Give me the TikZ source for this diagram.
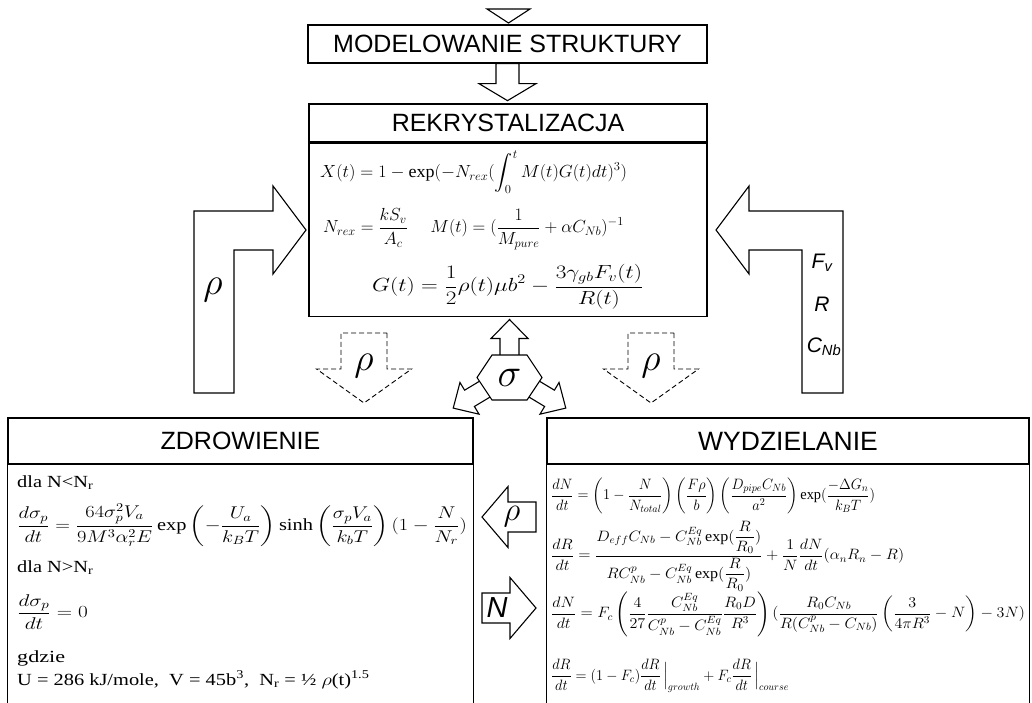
\documentclass[tikz,border=0pt]{standalone}
\usepackage{fix-cm}
\usepackage{amsmath, amssymb}
\usepackage{graphicx}
\usepackage{fontspec}
\setmainfont{Liberation Serif}
\setsansfont{Liberation Sans}
\usetikzlibrary{positioning, calc}

% horizontally widened text, as in the scanned figure
\newcommand{\eqwide}[2]{\scalebox{#1}[1]{#2}}

\tikzset{
  box/.style={draw, line width=1.3pt, inner sep=0pt},
  title/.style={font=\sffamily\fontsize{25}{30}\selectfont},
  blockline/.style={draw, line width=1.1pt, line join=miter, fill=white},
  dashline/.style={draw, line width=0.9pt, dash pattern=on 5pt off 3pt, fill=white},
  eqR/.style={anchor=west, inner sep=0pt, font=\fontsize{17.5}{20}\selectfont},
  eqZ/.style={anchor=west, inner sep=0pt, font=\fontsize{17}{20}\selectfont},
  eqW/.style={anchor=west, inner sep=0pt, font=\fontsize{15}{18}\selectfont},
  greek/.style={inner sep=0pt, font=\fontsize{38}{38}\selectfont},
  sflab/.style={inner sep=0pt, font=\sffamily\itshape\fontsize{21}{24}\selectfont},
  pics/fatarrow/.style args={#1/#2/#3/#4}{code={
    \draw[pic actions] (0,-#1) -- (#2,-#1) -- (#2,-#3) -- ({#2+#4},0)
      -- (#2,#3) -- (#2,#1) -- (0,#1) -- cycle;
  }},
}

\begin{document}
\begin{tikzpicture}[x=1pt, y=-1pt]
  \path[use as bounding box, fill=white] (0,0) rectangle (1032,702);

  % upper boxes
  \draw[blockline] (487,9) -- (530,9) -- (508.5,23) -- cycle;
  \node[box, title, minimum width=399pt, minimum height=38pt] (model) at (507.5,44) {MODELOWANIE STRUKTURY};
  \node[box, title, minimum width=398pt, minimum height=38pt] (rekhead) at (508,123) {REKRYSTALIZACJA};
  \node[box, minimum width=398pt, minimum height=173pt, below=0pt of rekhead] (rekbody) {};
  \pic[blockline, rotate=-90] at (model.south) {fatarrow=11.5/20/28.5/17};

  % recrystallisation equations
  \node[eqR] (rx1) at (320,172) {\eqwide{1.03}{$\displaystyle X(t) = 1 - \exp(-N_{rex}(\int_0^t M(t)G(t)dt)^3)$}};
  \node[eqR] (rx2) at (323,229) {\eqwide{1.01}{$\displaystyle N_{rex} = \frac{kS_v}{A_c} \quad\; M(t) = (\frac{1}{M_{pure}} + \alpha C_{Nb})^{-1}$}};
  \node[eqR, font=\fontsize{19}{22}\selectfont] (rx3) at (372,287) {\eqwide{1.22}{$\displaystyle G(t) = \frac{1}{2}\rho(t)\mu b^2 - \frac{3\gamma_{gb}F_v(t)}{R(t)}$}};

  % feedback arrows
  \draw[blockline] (194,393) -- (194,211) -- (273,211) -- (273,186) -- (306,230)
    -- (273,274) -- (273,250) -- (234,250) -- (234,393) -- cycle;
  \node[greek] (rhoL) at (213,290) {$\rho$};
  \draw[blockline] (843,393) -- (843,211) -- (749,211) -- (749,186) -- (716,230)
    -- (749,274) -- (749,250) -- (802,250) -- (802,393) -- cycle;
  \node[sflab] (fv) at (822,263) {F\textsubscript{v}};
  \node[sflab] (rr) at (822,304) {R};
  \node[sflab] (cnb) at (824,347) {C\textsubscript{Nb}};

  % dashed arrows
  \pic[dashline, rotate=-90] at (364,333) {fatarrow=23/36/47.5/34};
  \pic[dashline, rotate=-90] at (651,333) {fatarrow=23/36/47.5/34};
  \node[greek] (rhoA) at (364,366) {$\rho$};
  \node[greek] (rhoB) at (651,366) {$\rho$};

  % stress hexagon
  \coordinate (sc) at (509.5,377.5);
  \pic[blockline, rotate=90] at ($(sc)+(0,-20)$) {fatarrow=9.5/19/18.5/19};
  \pic[blockline, rotate=211] at ($(sc)+(-22,10)$) {fatarrow=9.5/21/18.5/19};
  \pic[blockline, rotate=-31] at ($(sc)+(22,10)$) {fatarrow=9.5/21/18.5/19};
  \draw[blockline] ($(sc)+(-17.5,-22.5)$) -- ($(sc)+(17.5,-22.5)$) -- ($(sc)+(32.5,0)$)
    -- ($(sc)+(17.5,22.5)$) -- ($(sc)+(-17.5,22.5)$) -- ($(sc)+(-32.5,0)$) -- cycle;
  \node[inner sep=0pt, font=\fontsize{40}{40}\selectfont] (sigma) at (sc) {$\sigma$};

  % lower boxes
  \node[box, title, minimum width=465pt, minimum height=46pt] (zdrhead) at (240.5,441) {ZDROWIENIE};
  \draw[line width=1.3pt] (zdrhead.south west) -- ++(0,250);
  \draw[line width=1.3pt] (zdrhead.south east) -- ++(0,250);
  \node[box, title, minimum width=482pt, minimum height=46pt] (wydhead) at (788,441) {\fontsize{26.5}{30}\selectfont WYDZIELANIE};
  \draw[line width=1.3pt] (wydhead.south west) -- ++(0,250);
  \draw[line width=1.3pt] (wydhead.south east) -- ++(0,250);

  % exchange between boxes
  \pic[blockline, rotate=180] at (536,517) {fatarrow=15/28/30.5/26};
  \node[greek, font=\fontsize{33}{33}\selectfont] (rhoC) at (512,517) {$\rho$};
  \pic[blockline] at (482,608) {fatarrow=15/28/30.5/26};
  \node[inner sep=0pt, font=\sffamily\itshape\fontsize{29}{30}\selectfont] (nn) at (497,608) {N};

  % recovery equations
  \node[eqZ, anchor=base west] (dla1) at (17,487) {\eqwide{1.2}{dla N<N\textsubscript{r}}};
  \node[eqZ] (rc1) at (17,525) {\eqwide{1.2}{$\displaystyle \frac{d\sigma_p}{dt} = \frac{64\sigma_p^2V_a}{9M^3\alpha_r^2E}\exp\left(-\frac{U_a}{k_BT}\right)\sinh\left(\frac{\sigma_pV_a}{k_bT}\right)(1-\frac{N}{N_r})$}};
  \node[eqZ, anchor=base west] (dla2) at (17,572) {\eqwide{1.2}{dla N>N\textsubscript{r}}};
  \node[eqZ] (rc2) at (17,612) {\eqwide{1.25}{$\displaystyle \frac{d\sigma_p}{dt} = 0$}};
  \node[eqZ, anchor=base west] (gdzie) at (17,662) {\eqwide{1.3}{gdzie}};
  \node[eqZ, anchor=base west] (stale) at (17,685) {\eqwide{1.2}{U = 286 kJ/mole, \ V = 45b\textsuperscript{3}, \ N\textsubscript{r} = ½ $\rho$(t)\textsuperscript{1.5}}};

  % precipitation equations
  \node[eqW] (pr1) at (551,496) {\eqwide{0.96}{$\displaystyle \frac{dN}{dt} = \left(1-\frac{N}{N_{total}}\right)\left(\frac{F\rho}{b}\right)\left(\frac{D_{pipe}C_{Nb}}{a^2}\right)\exp(\frac{-\Delta G_n}{k_BT})$}};
  \node[eqW] (pr2) at (551,556) {\eqwide{1.07}{$\displaystyle \frac{dR}{dt} = \frac{D_{eff}C_{Nb} - C_{Nb}^{Eq}\exp(\dfrac{R}{R_0})}{RC_{Nb}^{p} - C_{Nb}^{Eq}\exp(\dfrac{R}{R_0})} + \frac{1}{N}\frac{dN}{dt}(\alpha_nR_n - R)$}};
  \node[eqW] (pr3) at (551,614) {\eqwide{1.07}{$\displaystyle \frac{dN}{dt} = F_c\left(\frac{4}{27}\frac{C_{Nb}^{Eq}}{C_{Nb}^{p}-C_{Nb}^{Eq}}\frac{R_0D}{R^3}\right)(\frac{R_0C_{Nb}}{R(C_{Nb}^{p}-C_{Nb})}\left(\frac{3}{4\pi R^3}-N\right)-3N)$}};
  \node[eqW] (pr4) at (551,676) {\eqwide{0.96}{$\displaystyle \frac{dR}{dt} = (1-F_c)\frac{dR}{dt}\,\Big|_{growth} + F_c\frac{dR}{dt}\,\Big|_{course}$}};
\end{tikzpicture}
\end{document}
